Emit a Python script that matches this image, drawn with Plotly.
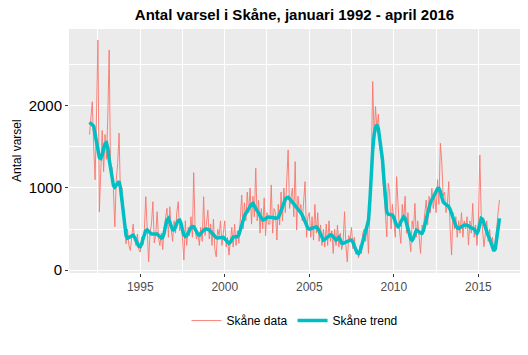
import pandas as pd
import plotly.graph_objects as go

# Monthly observations, January 1992 - April 2016
data_1992 = [1650, 1850, 2050, 1500, 1100, 1900, 2800, 711, 1350, 1700, 1200, 1650]
data_1993 = [1350, 1900, 2680, 1150, 1250, 975, 528, 1100, 1300, 1667, 850, 1000]
data_1994 = [780, 480, 320, 500, 300, 240, 430, 560, 380, 300, 440, 250]
data_1995 = [220, 400, 310, 500, 894, 350, 100, 450, 560, 833, 330, 420]
data_1996 = [711, 380, 300, 450, 250, 520, 640, 752, 400, 772, 500, 350]
data_1997 = [600, 450, 700, 833, 480, 560, 400, 122, 600, 300, 520, 420]
data_1998 = [650, 400, 1187, 500, 380, 450, 300, 520, 350, 894, 420, 600]
data_1999 = [730, 380, 560, 300, 620, 250, 162, 500, 420, 600, 300, 450]
data_2000 = [600, 280, 400, 183, 350, 520, 280, 560, 300, 480, 325, 650]
data_2001 = [914, 500, 820, 600, 950, 700, 1000, 560, 900, 650, 1240, 600]
data_2002 = [850, 450, 750, 500, 880, 420, 700, 560, 560, 1037, 450, 750]
data_2003 = [700, 366, 800, 550, 950, 600, 1000, 700, 1100, 1463, 750, 900]
data_2004 = [1000, 650, 1321, 488, 900, 700, 800, 600, 800, 1077, 400, 650]
data_2005 = [700, 400, 650, 366, 800, 450, 700, 350, 550, 300, 500, 280]
data_2006 = [560, 300, 600, 350, 480, 203, 500, 300, 550, 280, 450, 250]
data_2007 = [350, 711, 300, 100, 420, 380, 520, 260, 400, 203, 250, 150]
data_2008 = [300, 200, 450, 500, 350, 600, 203, 750, 1300, 2297, 1600, 1992]
data_2009 = [1700, 1900, 1500, 1400, 1200, 950, 700, 406, 1057, 955, 500, 800]
data_2010 = [600, 400, 1138, 700, 500, 325, 800, 600, 900, 450, 700, 400]
data_2011 = [224, 600, 500, 813, 400, 600, 350, 203, 550, 500, 700, 854]
data_2012 = [550, 900, 700, 996, 750, 900, 700, 1100, 800, 1545, 1321, 900]
data_2013 = [950, 700, 800, 1077, 500, 183, 700, 500, 650, 400, 600, 450]
data_2014 = [700, 400, 600, 500, 650, 305, 600, 450, 813, 400, 550, 300]
data_2015 = [600, 1402, 700, 500, 285, 450, 600, 350, 500, 300, 400, 224]
data_2016 = [350, 500, 700, 854]

# Smoothed trend, same months
trend_1992 = [1800, 1790, 1770, 1750, 1650, 1520, 1420, 1370, 1360, 1400, 1480, 1540]
trend_1993 = [1550, 1480, 1350, 1220, 1100, 1030, 1010, 1040, 1070, 1080, 1000, 850]
trend_1994 = [680, 520, 420, 390, 400, 410, 420, 425, 400, 360, 320, 290]
trend_1995 = [285, 320, 380, 440, 480, 490, 470, 450, 440, 440, 440, 440]
trend_1996 = [440, 420, 400, 390, 400, 450, 540, 610, 630, 590, 530, 490]
trend_1997 = [490, 520, 570, 605, 610, 570, 490, 430, 410, 420, 450, 490]
trend_1998 = [520, 530, 528, 500, 460, 435, 427, 440, 465, 485, 500, 500]
trend_1999 = [500, 490, 470, 450, 430, 410, 395, 390, 395, 400, 405, 400]
trend_2000 = [380, 355, 335, 325, 340, 370, 400, 406, 405, 406, 430, 490]
trend_2001 = [570, 630, 660, 690, 720, 750, 780, 805, 813, 790, 750, 720]
trend_2002 = [700, 660, 625, 610, 615, 630, 640, 645, 645, 640, 640, 638]
trend_2003 = [630, 630, 640, 680, 730, 780, 820, 860, 880, 886, 870, 850]
trend_2004 = [830, 810, 790, 770, 752, 730, 700, 670, 630, 590, 550, 510]
trend_2005 = [500, 505, 515, 525, 530, 528, 510, 470, 420, 380, 366, 375]
trend_2006 = [390, 405, 420, 430, 427, 400, 375, 366, 380, 400, 370, 330]
trend_2007 = [325, 335, 345, 355, 360, 365, 366, 340, 290, 240, 210, 203]
trend_2008 = [230, 290, 350, 406, 460, 520, 600, 850, 1200, 1463, 1650, 1740]
trend_2009 = [1768, 1720, 1600, 1480, 1341, 1100, 880, 711, 680, 675, 672, 670]
trend_2010 = [640, 590, 545, 528, 545, 590, 630, 650, 630, 560, 480, 420]
trend_2011 = [380, 366, 390, 440, 488, 480, 460, 450, 447, 480, 550, 630]
trend_2012 = [690, 760, 820, 854, 890, 930, 965, 990, 996, 960, 890, 830]
trend_2013 = [813, 800, 785, 772, 740, 690, 630, 580, 540, 515, 508, 515]
trend_2014 = [530, 545, 550, 550, 549, 540, 525, 510, 508, 500, 470, 447]
trend_2015 = [480, 570, 630, 620, 570, 500, 447, 420, 380, 330, 280, 235]
trend_2016 = [260, 400, 549, 630]

data_years = [data_1992, data_1993, data_1994, data_1995, data_1996, data_1997,
              data_1998, data_1999, data_2000, data_2001, data_2002, data_2003,
              data_2004, data_2005, data_2006, data_2007, data_2008, data_2009,
              data_2010, data_2011, data_2012, data_2013, data_2014, data_2015,
              data_2016]
trend_years = [trend_1992, trend_1993, trend_1994, trend_1995, trend_1996, trend_1997,
               trend_1998, trend_1999, trend_2000, trend_2001, trend_2002, trend_2003,
               trend_2004, trend_2005, trend_2006, trend_2007, trend_2008, trend_2009,
               trend_2010, trend_2011, trend_2012, trend_2013, trend_2014, trend_2015,
               trend_2016]

values = [v for yr in data_years for v in yr]
trend = [v for yr in trend_years for v in yr]
dates = pd.date_range("1992-01-01", periods=len(values), freq="MS")

RED = "#F8766D"
TEAL = "#00BFC4"

fig = go.Figure()
fig.add_trace(go.Scatter(x=dates, y=values, mode="lines", name="Skåne data",
                         line=dict(color=RED, width=0.9)))
fig.add_trace(go.Scatter(x=dates, y=trend, mode="lines", name="Skåne trend",
                         line=dict(color=TEAL, width=3.5)))

# ggplot-like 5% expansion
t0, t1 = dates[0], dates[-1]
span = t1 - t0
xr = [t0 - span * 0.05, t1 + span * 0.05]
ymin, ymax = min(values), max(values)
yr_ = ymax - ymin
yrange = [ymin - 0.05 * yr_, ymax + 0.05 * yr_]

L, R, T, B = 69, 8, 29, 82
W, H = 528, 355

fig.update_layout(
    width=W, height=H,
    margin=dict(l=L, r=R, t=T, b=B, autoexpand=False),
    paper_bgcolor="white",
    plot_bgcolor="#EBEBEB",
    font=dict(family="Liberation Sans, Arial, sans-serif", color="black"),
    title=dict(text="<b>Antal varsel i Skåne, januari 1992 - april 2016</b>",
               x=(L + (W - L - R) / 2) / W, xanchor="center",
               y=1 - 15 / H, yanchor="middle",
               font=dict(size=15, color="black")),
    showlegend=True,
    legend=dict(orientation="h", x=0.5, xanchor="center", y=-0.195, yanchor="middle",
                font=dict(size=12, color="black"), bgcolor="rgba(0,0,0,0)",
                itemwidth=30),
    xaxis=dict(type="date", range=xr, tick0="1995-01-01", dtick="M60",
               tickformat="%Y", showgrid=True, gridcolor="white", gridwidth=1.1,
               zeroline=False, showline=False, automargin=False,
               ticks="outside", ticklen=3, tickcolor="#333333", tickwidth=1,
               tickfont=dict(size=12, color="#4D4D4D"),
               minor=dict(tick0="1992-07-01", dtick="M60", showgrid=True,
                          gridcolor="white", gridwidth=0.5)),
    yaxis=dict(range=yrange, tick0=0, dtick=1000, showgrid=True, gridcolor="white",
               gridwidth=1.1, zeroline=False, showline=False, automargin=False,
               ticks="outside", ticklen=3, tickcolor="#333333", tickwidth=1,
               tickfont=dict(size=15, color="black"),
               minor=dict(tick0=500, dtick=1000, showgrid=True,
                          gridcolor="white", gridwidth=0.5)),
    annotations=[dict(text="Antal varsel", textangle=-90, xref="paper", yref="paper",
                      x=0, y=0.5, xanchor="center", yanchor="middle", xshift=-52,
                      showarrow=False, font=dict(size=12, color="black"))],
)

fig.write_html("out.html",
               config={"displayModeBar": False},
               post_script="document.body.style.margin='0';document.body.style.overflow='hidden';")
